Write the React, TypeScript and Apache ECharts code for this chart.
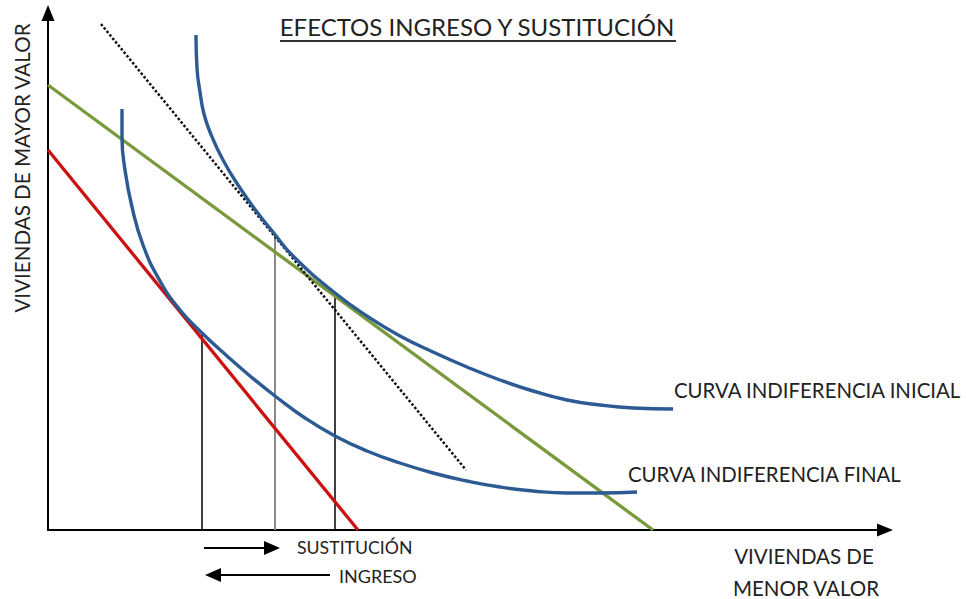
import React, { useEffect, useRef } from "react";
import * as echarts from "echarts";

// Units: horizontal = houses of lower value, vertical = houses of higher value
const redBudget: number[][] = [[0, 380], [310, 0]];
const greenBudget: number[][] = [[0, 445], [605, 0]];
const dottedBudget: number[][] = [[53, 506], [418, 60]];

const initialCurve: number[][] = [
  [148, 495], [149, 462], [152, 438], [156, 416], [162, 398], [175, 370], [192, 342],
  [209, 318], [225, 298], [245, 274], [287, 237], [322, 212], [352, 194],
  [385, 178], [419, 163], [452, 150], [485, 139], [519, 130], [552, 125],
  [585, 122], [625, 121],
];
const finalCurve: number[][] = [
  [74, 421], [74, 393], [77, 360], [84, 323], [95, 285], [112, 249],
  [132, 220], [154, 197], [179, 174], [202, 154], [227, 134], [257, 112],
  [287, 94], [319, 79], [352, 67], [385, 57], [419, 49], [452, 43],
  [485, 39], [519, 37], [552, 37], [589, 38],
];
const dropLineX: number[] = [154, 227, 287];
const dropLineTop: number[] = [197, 297, 237];

const titleText = "EFECTOS INGRESO Y SUSTITUCIÓN";
const yLabel = "VIVIENDAS DE MAYOR VALOR";
const xLabel1 = "VIVIENDAS DE";
const xLabel2 = "MENOR VALOR";
const labelInitial = "CURVA INDIFERENCIA INICIAL";
const labelFinal = "CURVA INDIFERENCIA FINAL";
const labelSust = "SUSTITUCIÓN";
const labelIngreso = "INGRESO";

export default function App() {
  const ref = useRef<HTMLDivElement>(null);
  useEffect(() => {
    document.body.style.margin = "0";
    const chart = echarts.init(ref.current!, null, { renderer: "svg" });
    const blue = "#2C5A92";
    const font = "Lato";
    const txt = "#222";
    const axisCommon = {
      type: "value" as const,
      min: 0,
      axisLine: {
        show: true,
        onZero: false,
        symbol: ["none", "triangle"],
        symbolSize: [13, 16],
        lineStyle: { color: "#000", width: 2 },
      },
      axisTick: { show: false },
      axisLabel: { show: false },
      splitLine: { show: false },
    };
    const lineSeries = (data: number[][], color: string, width: number, type: any = "solid", smooth: any = false) => ({
      type: "line",
      data,
      showSymbol: false,
      symbol: "none",
      smooth,
      clip: false,
      lineStyle: { color, width, type },
      silent: true,
    });
    const drops = dropLineX.map((x, i) =>
      lineSeries([[x, 0], [x, dropLineTop[i]]], i === 1 ? "#8a8a8a" : "#000", i === 1 ? 2 : 1.5)
    );
    chart.setOption({
      animation: false,
      grid: { left: 48, top: 13, right: 81, bottom: 69 },
      xAxis: { ...axisCommon, max: 837 },
      yAxis: { ...axisCommon, max: 517 },
      series: [
        ...drops,
        lineSeries(redBudget, "#CC1111", 3.3),
        lineSeries(greenBudget, "#789A3A", 3.3),
        lineSeries(dottedBudget, "#111", 2.5, [2.5, 2]),
        lineSeries(initialCurve, blue, 3.4, "solid", 0.5),
        lineSeries(finalCurve, blue, 3.4, "solid", 0.5),
      ],
      graphic: [
        { type: "text", x: 477, y: 26, style: { text: titleText, font: `24px ${font}`, fill: txt, align: "center", verticalAlign: "middle" } },
        { type: "line", shape: { x1: 280, y1: 41, x2: 676, y2: 41 }, style: { stroke: "#333", lineWidth: 2 } },
        { type: "text", x: 22, y: 168, rotation: Math.PI / 2, style: { text: yLabel, font: `20.6px ${font}`, fill: txt, align: "center", verticalAlign: "middle" } },
        { type: "text", x: 804, y: 556, style: { text: xLabel1, font: `20.5px ${font}`, fill: txt, align: "center", verticalAlign: "middle" } },
        { type: "text", x: 806, y: 588, style: { text: xLabel2, font: `20.5px ${font}`, fill: txt, align: "center", verticalAlign: "middle" } },
        { type: "text", x: 674, y: 390, style: { text: labelInitial, font: `20.4px ${font}`, fill: txt, align: "left", verticalAlign: "middle" } },
        { type: "text", x: 628, y: 474, style: { text: labelFinal, font: `20.4px ${font}`, fill: txt, align: "left", verticalAlign: "middle" } },
        { type: "text", x: 297, y: 547, style: { text: labelSust, font: `17.7px ${font}`, fill: txt, align: "left", verticalAlign: "middle" } },
        { type: "text", x: 339, y: 576, style: { text: labelIngreso, font: `18px ${font}`, fill: txt, align: "left", verticalAlign: "middle" } },
        { type: "line", shape: { x1: 204, y1: 548, x2: 268, y2: 548 }, style: { stroke: "#000", lineWidth: 2 } },
        { type: "polygon", shape: { points: [[264, 541], [280, 548], [264, 555]] }, style: { fill: "#000" } },
        { type: "line", shape: { x1: 218, y1: 575, x2: 330, y2: 575 }, style: { stroke: "#000", lineWidth: 2 } },
        { type: "polygon", shape: { points: [[221, 568], [205, 575], [221, 582]] }, style: { fill: "#000" } },
      ],
    });
    return () => chart.dispose();
  }, []);
  return <div ref={ref} style={{ width: 966, height: 599 }} />;
}
